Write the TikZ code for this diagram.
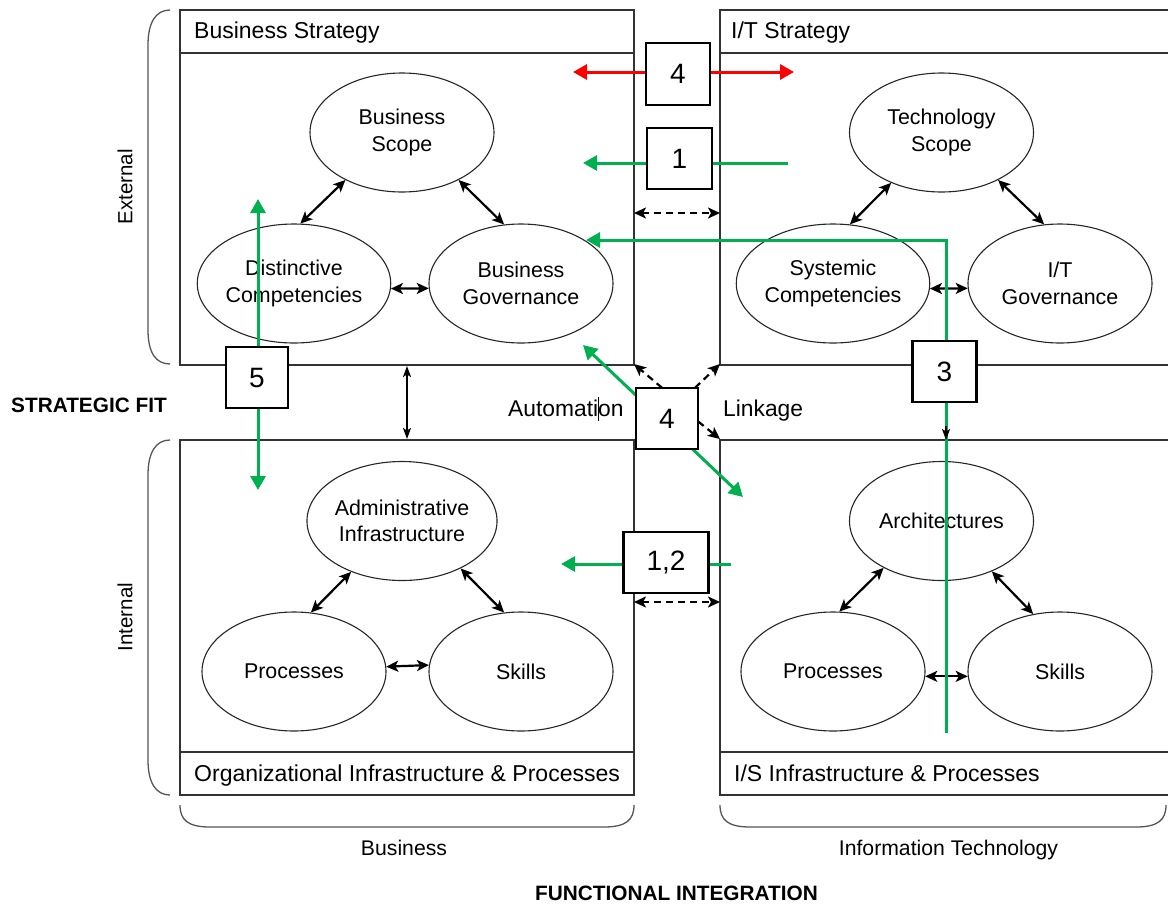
\documentclass[tikz,border=0pt]{standalone}
\usepackage{fontspec}
\setmainfont{Liberation Sans}
\usetikzlibrary{arrows.meta,shapes.geometric}
\definecolor{ggreen}{HTML}{00B050}
\definecolor{rred}{HTML}{FF0000}
\definecolor{framec}{HTML}{333333}
\definecolor{brkc}{HTML}{555555}
\tikzset{
  gt/.tip={Triangle[length=14pt,width=15pt]},
  bt/.tip={Stealth[length=12pt,width=11pt,inset=3pt]},
  vt/.tip={Stealth[length=11pt,width=8pt,inset=2.5pt]},
}
\begin{document}
\begin{tikzpicture}[x=1pt,y=-1pt,
  quad/.style={draw=framec,line width=1.3pt},
  brk/.style={draw=brkc,line width=1.3pt},
  ell/.style={draw=black!85,line width=1.1pt,ellipse,minimum width=184pt,minimum height=119pt,inner sep=0pt,align=center,font=\fontsize{21.4}{26.5}\selectfont},
  hdr/.style={anchor=base west,inner sep=0pt,font=\fontsize{23}{27}\selectfont},
  numbox/.style={draw=black,line width=2.4pt,fill=white,inner sep=0pt,font=\fontsize{28}{30}\selectfont},
  dbl/.style={draw=black,line width=2.2pt,bt-bt},
  dasharr/.style={draw=black,line width=2.2pt,dash pattern=on 7pt off 5pt},
  gline/.style={draw=ggreen,line width=3pt},
  rline/.style={draw=rred,line width=3pt},
  lbl/.style={inner sep=0pt,font=\fontsize{20.5}{24}\selectfont},
  boldlbl/.style={inner sep=0pt,font=\fontsize{20.8}{24}\bfseries\selectfont},
]
\useasboundingbox (0,0) rectangle (1168,903);
\clip (0,0) rectangle (1168,903);

% brackets
\draw[brk] (170,10) .. controls (156,10) and (148,22) .. (148,45) -- (148,330) .. controls (148,353) and (156,364) .. (170,364);
\draw[brk] (170,440) .. controls (156,440) and (148,452) .. (148,475) -- (148,760) .. controls (148,783) and (156,795) .. (170,795);
\draw[brk] (180,805) .. controls (180,820) and (188,827) .. (210,827) -- (604,827) .. controls (626,827) and (634,820) .. (634,805);
\draw[brk] (720,805) .. controls (720,820) and (728,827) .. (750,827) -- (1136,827) .. controls (1158,827) and (1166,820) .. (1166,805);

% quadrant frames
\draw[quad] (180,10) rectangle (634,365);
\draw[quad] (180,53) -- (634,53);
\draw[quad] (720,10) rectangle (1185,365);
\draw[quad] (720,53) -- (1185,53);
\draw[quad] (180,440) rectangle (634,795);
\draw[quad] (180,752) -- (634,752);
\draw[quad] (720,440) rectangle (1185,795);
\draw[quad] (720,752) -- (1185,752);

\node[hdr] (hbs) at (194,38.5) {Business Strategy};
\node[hdr] (hit) at (731,38.5) {I/T Strategy};
\node[hdr] (hoi) at (194,781) {Organizational Infrastructure \& Processes};
\node[hdr] (his) at (734,781) {I/S Infrastructure \& Processes};

% ellipses
\node[ell] (bs) at (402,132.5) {Business\\Scope};
\node[ell] (dc) at (294,283.5) {Distinctive\\Competencies};
\node[ell] (bg) at (521,283.5) {Business\\Governance};
\node[ell] (ts) at (941.5,132.5) {Technology\\Scope};
\node[ell] (sc) at (833,283.5) {Systemic\\Competencies};
\node[ell] (itg) at (1060,283.5) {I/T\\Governance};
\node[ell] (ai) at (402,521) {Administrative\\Infrastructure};
\node[ell] (p1) at (294,671.5) {Processes};
\node[ell] (s1) at (521,671.5) {Skills};
\node[ell] (ar) at (941.5,521) {Architectures};
\node[ell] (p2) at (833,671.5) {Processes};
\node[ell] (s2) at (1060,671.5) {Skills};

% black double arrows
\draw[dbl] (bs.220) -- (dc.84);
\draw[dbl] (bs.320) -- (bg.106);
\draw[dbl] (dc.-3.4) -- (bg.183.4);
\draw[dbl] (ts.225) -- (sc.74);
\draw[dbl] (ts.320) -- (itg.105);
\draw[dbl] (sc.-3.4) -- (itg.183.4);
\draw[dbl] (ai.225) -- (p1.74);
\draw[dbl] (ai.321) -- (s1.106);
\draw[dbl] (p1.3.4) -- (s1.176.6);
\draw[dbl] (ar.219) -- (p2.84);
\draw[dbl] (ar.315) -- (s2.115);
\draw[dbl] (p2.-3.4) -- (s2.183.4);

% coordinates
\coordinate (dtl) at (634,213);
\coordinate (dtr) at (720,213);
\coordinate (dbl) at (634,602);
\coordinate (dbr) at (720,602);
\coordinate (c1) at (634,364);
\coordinate (c2) at (720,364);
\coordinate (c3) at (720,439);
\coordinate (vtop) at (407,366);
\coordinate (vbot) at (407,439);
\coordinate (b3mid) at (946,426);
\coordinate (b3end) at (946,440);
\coordinate (r1) at (573,72);
\coordinate (r2) at (794,72);
\coordinate (g1s) at (788,163);
\coordinate (g1t) at (583,163);
\coordinate (g12s) at (731,564);
\coordinate (g12t) at (561,564);
\coordinate (g3s) at (946,733);
\coordinate (g3t) at (586,240);
\coordinate (g5t) at (258,199);
\coordinate (g5b) at (258,490);
\coordinate (g4a) at (583,345);
\coordinate (g4b) at (743,497);

% reference nodes for the numbered boxes (drawn on top later)
\path (667,418.5) node[minimum width=62pt,minimum height=61pt,inner sep=0pt] (b4mref) {};

% dashed double arrows in gap
\draw[dasharr,bt-bt] (dtl) -- (dtr);
\draw[dasharr,bt-bt] (dbl) -- (dbr);
% dashed arrows from central 4
\draw[dasharr,-bt] ([xshift=-5pt]b4mref.north) -- (c1);
\draw[dasharr,-bt] ([xshift=28pt]b4mref.north) -- (c2);
\draw[dasharr,-bt] ([yshift=-3pt]b4mref.east) -- (c3);
% strategic fit vertical arrow
\draw[line width=1.5pt,vt-vt] (vtop) -- (vbot);

% green and red lines
\draw[rline,gt-gt] (r1) -- (r2);
\draw[gline,-gt] (g1s) -- (g1t);
\draw[gline,-gt] (g12s) -- (g12t);
\draw[gline,-gt] (g3s) |- (g3t);
\draw[gline,gt-gt] (g5t) -- (g5b);
\draw[gline,gt-gt] (g4a) -- (g4b);

% box 3 black arrow head over the green line
\draw[line width=1.2pt,-vt] (b3mid) -- (b3end);

% numbered boxes
\node[numbox,minimum width=64pt,minimum height=62pt] (b4t) at (678,74) {4};
\node[numbox,minimum width=65pt,minimum height=61pt] (b1) at (679.5,158.5) {1};
\node[numbox,minimum width=62pt,minimum height=61pt] (b5) at (257,377.5) {5};
\node[numbox,minimum width=64pt,minimum height=61pt] (b3) at (944.5,371.5) {3};
\node[numbox,minimum width=62pt,minimum height=61pt] (b4m) at (667,418.5) {4};
\node[numbox,minimum width=85pt,minimum height=61pt] (b12) at (666,562.5) {1,2};

% labels
\node[lbl,anchor=base west,font=\fontsize{22.8}{26}\selectfont] (auto) at (508,416) {Automation};
\draw[line width=0.8pt] (598.5,397) -- (598.5,421);
\node[lbl,anchor=base west,font=\fontsize{22.8}{26}\selectfont] (link) at (723,416) {Linkage};
\node[boldlbl,anchor=base west] (sfit) at (11,412) {STRATEGIC FIT};
\node[lbl,rotate=90] (ext) at (125,187) {External};
\node[lbl,rotate=90] (int) at (125,617) {Internal};
\node[lbl,anchor=base,font=\fontsize{21.2}{24}\selectfont] (bus) at (404,855) {Business};
\node[lbl,anchor=base,font=\fontsize{21.2}{24}\selectfont] (itc) at (948.5,855) {Information Technology};
\node[boldlbl,anchor=base] (fint) at (676.5,900) {FUNCTIONAL INTEGRATION};
\end{tikzpicture}
\end{document}
